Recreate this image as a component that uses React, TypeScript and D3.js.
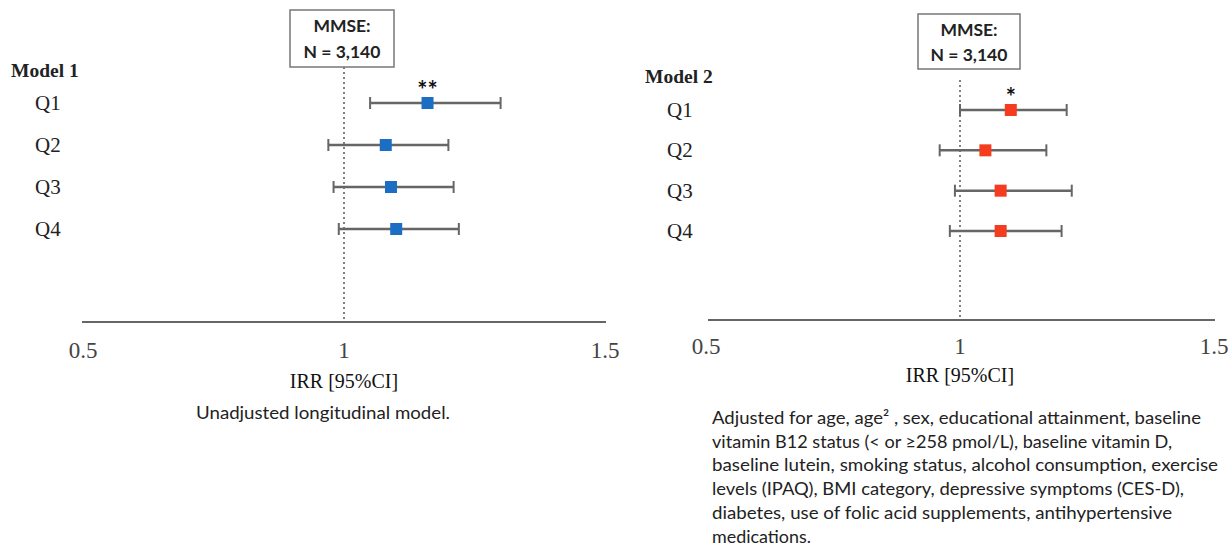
import { useEffect, useRef } from 'react';
import * as d3 from 'd3';

// quartiles and IRR estimates
const quartiles = ['Q1', 'Q2', 'Q3', 'Q4'];
const model1Irr = [1.16, 1.08, 1.09, 1.10];
const model1Lo = [1.05, 0.97, 0.98, 0.99];
const model1Hi = [1.30, 1.20, 1.21, 1.22];
const model2Irr = [1.10, 1.05, 1.08, 1.08];
const model2Lo = [1.00, 0.96, 0.99, 0.98];
const model2Hi = [1.21, 1.17, 1.22, 1.20];
const model1Stars = ['**', '', '', ''];
const model2Stars = ['*', '', '', ''];
const tickValues = [0.5, 1, 1.5];
const tickLabels = ['0.5', '1', '1.5'];
const boxLines = ['MMSE:', 'N = 3,140'];
const caption1 = ['Unadjusted longitudinal model.'];
const caption2 = [
  'Adjusted for age, age\u00B2 , sex, educational attainment, baseline',
  'vitamin B12 status (< or \u2265258 pmol/L), baseline vitamin D,',
  'baseline lutein,  smoking status, alcohol consumption, exercise',
  'levels (IPAQ), BMI category, depressive symptoms (CES-D),',
  'diabetes, use of folic acid supplements, antihypertensive',
  'medications.',
];

const SERIF = '"Liberation Serif", "Times New Roman", serif';
const SANS = 'Lato, "Open Sans", sans-serif';

export default function App() {
  const svgRef = useRef<SVGSVGElement>(null);
  const width = 1231;
  const height = 547;

  useEffect(() => {
    const svg = d3.select(svgRef.current);
    svg.selectAll('*').remove();

    const panels = [
      {
        title: 'Model 1', irr: model1Irr, lo: model1Lo, hi: model1Hi, stars: model1Stars,
        color: '#1c6ec4', caption: caption1, captionWidths: [254], captionAnchor: 'middle',
        captionX: 323, captionY: 419, captionStep: 23.7,
        x0: 83, x1: 605, axisX0: 82, axisX1: 606, axisY: 322, tickY: 358, irrY: 388,
        y0: 103, y1: 229, titleX: 11, titleY: 77, qX: 35,
        box: { x: 290, y: 10, w: 104, h: 57 }, boxY: [32, 58], dashTop: 67,
      },
      {
        title: 'Model 2', irr: model2Irr, lo: model2Lo, hi: model2Hi, stars: model2Stars,
        color: '#f63c1f', caption: caption2, captionWidths: [489, 460, 506, 472, 460, 99], captionAnchor: 'start',
        captionX: 712, captionY: 424, captionStep: 23.7,
        x0: 706, x1: 1214, axisX0: 708, axisX1: 1215, axisY: 320, tickY: 354, irrY: 382,
        y0: 110, y1: 231, titleX: 645, titleY: 83, qX: 667,
        box: { x: 918, y: 14, w: 102, h: 55 }, boxY: [36, 61], dashTop: 80,
      },
    ];

    panels.forEach(p => {
      const x = d3.scaleLinear().domain([0.5, 1.5]).range([p.x0, p.x1]);
      const y = d3.scalePoint<string>().domain(quartiles).range([p.y0, p.y1]);
      const g = svg.append('g');

      // reference line at IRR = 1
      g.append('line')
        .attr('x1', x(1)).attr('x2', x(1))
        .attr('y1', p.dashTop).attr('y2', p.axisY)
        .attr('stroke', '#555').attr('stroke-width', 1.5)
        .attr('stroke-dasharray', '2,3');

      // N box
      g.append('rect')
        .attr('x', p.box.x).attr('y', p.box.y)
        .attr('width', p.box.w).attr('height', p.box.h)
        .attr('fill', 'white').attr('stroke', '#777').attr('stroke-width', 1.5);
      boxLines.forEach((t, i) => {
        g.append('text')
          .attr('x', p.box.x + p.box.w / 2).attr('y', p.boxY[i])
          .attr('text-anchor', 'middle')
          .style('font-family', SANS).style('font-weight', 'bold').style('font-size', '17.5px')
          .attr('fill', '#222')
          .text(t);
      });

      // axis
      g.append('line')
        .attr('x1', p.axisX0).attr('x2', p.axisX1)
        .attr('y1', p.axisY).attr('y2', p.axisY)
        .attr('stroke', '#666').attr('stroke-width', 2);
      tickValues.forEach((v, i) => {
        g.append('text')
          .attr('x', x(v)).attr('y', p.tickY)
          .attr('text-anchor', 'middle')
          .style('font-family', SERIF).style('font-size', '23px')
          .attr('fill', '#444')
          .text(tickLabels[i]);
      });
      g.append('text')
        .attr('x', x(1)).attr('y', p.irrY)
        .attr('text-anchor', 'middle')
        .style('font-family', SERIF).style('font-size', '20px')
        .attr('fill', '#111')
        .text('IRR [95%CI]');

      // title and row labels
      g.append('text')
        .attr('x', p.titleX).attr('y', p.titleY)
        .style('font-family', SERIF).style('font-weight', 'bold').style('font-size', '19.5px')
        .attr('fill', '#222')
        .text(p.title);
      quartiles.forEach(q => {
        g.append('text')
          .attr('x', p.qX).attr('y', (y(q) ?? 0) + 7)
          .style('font-family', SERIF).style('font-size', '21px')
          .attr('fill', '#222')
          .text(q);
      });

      // error bars
      quartiles.forEach((q, i) => {
        const cy = y(q) ?? 0;
        g.append('line')
          .attr('x1', x(p.lo[i])).attr('x2', x(p.hi[i]))
          .attr('y1', cy).attr('y2', cy)
          .attr('stroke', '#666').attr('stroke-width', 2.5);
        [p.lo[i], p.hi[i]].forEach(v => {
          g.append('line')
            .attr('x1', x(v)).attr('x2', x(v))
            .attr('y1', cy - 6).attr('y2', cy + 6)
            .attr('stroke', '#666').attr('stroke-width', 2);
        });
        g.append('rect')
          .attr('x', x(p.irr[i]) - 6).attr('y', cy - 6)
          .attr('width', 12).attr('height', 12)
          .attr('fill', p.color);
        if (p.stars[i]) {
          g.append('text')
            .attr('x', x(p.irr[i])).attr('y', cy - 4)
            .attr('text-anchor', 'middle')
            .style('font-family', SANS).style('font-weight', 'bold').style('font-size', '24px')
            .attr('fill', '#111')
            .text(p.stars[i]);
        }
      });

      // caption
      p.caption.forEach((t, i) => {
        g.append('text')
          .attr('x', p.captionX).attr('y', p.captionY + i * p.captionStep)
          .attr('text-anchor', p.captionAnchor)
          .attr('textLength', p.captionWidths[i])
          .attr('lengthAdjust', 'spacingAndGlyphs')
          .style('font-family', SANS).style('font-size', '18px')
          .attr('fill', '#222')
          .text(t);
      });
    });
  }, []);

  return (
    <svg
      ref={svgRef}
      width={width}
      height={height}
      style={{ position: 'absolute', left: 0, top: 0, background: 'white' }}
    />
  );
}
